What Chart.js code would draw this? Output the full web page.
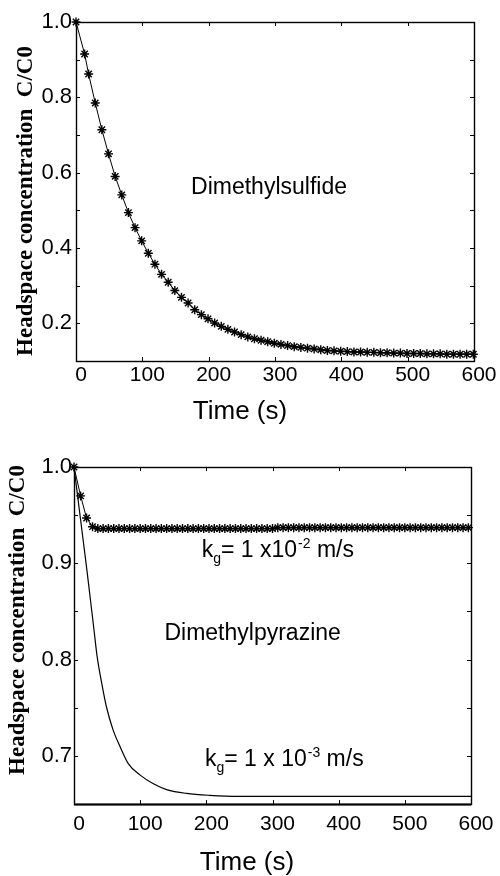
<!DOCTYPE html>
<html><head><meta charset="utf-8">
<script src="https://cdn.jsdelivr.net/npm/chart.js@4.4.0/dist/chart.umd.min.js"></script>
<style>
html,body{margin:0;padding:0;background:#fff;}
#wrap{position:relative;width:500px;height:876px;overflow:hidden;}
canvas{position:absolute;left:0;display:block;}
#c1{top:0;}
#c2{top:438px;}
</style></head><body>
<div id="wrap"><canvas id="c1" width="500" height="438"></canvas><canvas id="c2" width="500" height="438"></canvas></div>
<script>
// ---------- data ----------
const xTickValues = [0, 100, 200, 300, 400, 500, 600];
const dmsYLabels = [0.2, 0.4, 0.6, 0.8, 1.0];
const dmpYLabels = [0.7, 0.8, 0.9, 1.0];
const xTitle = 'Time (s)';
const yTitle = 'Headspace concentration  C/C0';
const dmsName = 'Dimethylsulfide';
const dmpName = 'Dimethylpyrazine';

// Dimethylsulfide
const dmsTime = [0, 13, 19, 29, 39, 49, 59, 69, 79, 89,
  99, 109, 119, 129, 139, 149, 159, 169, 179, 189,
  199, 209, 219, 229, 239, 249, 259, 269, 279, 289,
  299, 309, 319, 329, 339, 349, 359, 369, 379, 389,
  399, 409, 419, 429, 439, 449, 459, 469, 479, 489,
  499, 509, 519, 529, 539, 549, 559, 569, 579, 589, 599];
const dmsConc = [1.000, 0.915, 0.862, 0.785, 0.714, 0.650, 0.590, 0.541, 0.494, 0.454,
  0.419, 0.386, 0.357, 0.330, 0.309, 0.287, 0.269, 0.254, 0.236, 0.223,
  0.212, 0.201, 0.192, 0.184, 0.177, 0.170, 0.164, 0.159, 0.155, 0.151,
  0.147, 0.144, 0.141, 0.138, 0.136, 0.134, 0.132, 0.130, 0.128, 0.127,
  0.126, 0.125, 0.124, 0.124, 0.123, 0.123, 0.122, 0.122, 0.121, 0.121,
  0.120, 0.120, 0.120, 0.119, 0.119, 0.119, 0.118, 0.118, 0.118, 0.118, 0.118];

// Dimethylpyrazine, kg = 1e-2 m/s (asterisks)
const dmpHighTime = [0, 10, 19, 28, 36, 44, 52, 60, 68, 76,
  84, 92, 100, 108, 116, 124, 132, 140, 148, 156,
  164, 172, 180, 188, 196, 204, 212, 220, 228, 236,
  244, 252, 260, 268, 276, 284, 292, 300, 308, 316,
  324, 332, 340, 348, 356, 364, 372, 380, 388, 396,
  404, 412, 420, 428, 436, 444, 452, 460, 468, 476,
  484, 492, 500, 508, 516, 524, 532, 540, 548, 556,
  564, 572, 580, 588, 596];
const dmpHighConc = [1.000, 0.970, 0.947, 0.938, 0.936, 0.936, 0.936, 0.936, 0.936, 0.936,
  0.936, 0.936, 0.936, 0.936, 0.936, 0.936, 0.936, 0.936, 0.936, 0.936,
  0.936, 0.936, 0.936, 0.936, 0.936, 0.936, 0.936, 0.936, 0.936, 0.936,
  0.936, 0.936, 0.936, 0.936, 0.936, 0.936, 0.936, 0.936, 0.937, 0.937,
  0.937, 0.937, 0.937, 0.937, 0.937, 0.937, 0.937, 0.937, 0.937, 0.937,
  0.937, 0.937, 0.937, 0.937, 0.937, 0.937, 0.937, 0.937, 0.937, 0.937,
  0.937, 0.937, 0.937, 0.937, 0.937, 0.937, 0.937, 0.937, 0.937, 0.937,
  0.937, 0.937, 0.937, 0.937, 0.937];

// Dimethylpyrazine, kg = 1e-3 m/s (solid line)
const dmpLowTime = [0, 10, 20, 30, 35, 42, 49, 59, 70, 82, 100, 120, 140, 170, 205, 250, 300, 400, 500, 600];
const dmpLowConc = [1.000, 0.945, 0.890, 0.832, 0.803, 0.775, 0.751, 0.727, 0.709, 0.692, 0.680, 0.671, 0.665, 0.661, 0.659, 0.658, 0.658, 0.658, 0.658, 0.658];

// ---------- helpers ----------
const SANS = '"Liberation Sans", Arial, sans-serif';
const SERIF = '"Liberation Serif", "Times New Roman", serif';
const toXY = (xs, ys) => xs.map((x, i) => ({x: x, y: ys[i]}));

function drawKg(ctx, x, y, mid, exp) {
  ctx.textAlign = 'left';
  ctx.textBaseline = 'alphabetic';
  let cx = x;
  ctx.font = '23px ' + SANS; ctx.fillText('k', cx, y); cx += ctx.measureText('k').width;
  ctx.font = '14px ' + SANS; ctx.fillText('g', cx, y + 6); cx += ctx.measureText('g').width;
  ctx.font = '23px ' + SANS; ctx.fillText(mid, cx, y); cx += ctx.measureText(mid).width;
  ctx.font = '14px ' + SANS; ctx.fillText(exp, cx + 1, y - 9); cx += ctx.measureText(exp).width + 1;
  ctx.font = '23px ' + SANS; ctx.fillText(' m/s', cx, y);
}

const framePlugin = {
  id: 'frame',
  afterDatasetsDraw(chart, args, o) {
    const ctx = chart.ctx, a = chart.chartArea;
    const xs = chart.scales.x, ys = chart.scales.y;
    ctx.save();
    ctx.strokeStyle = '#000';
    ctx.lineWidth = 1;
    // inward ticks
    ctx.beginPath();
    xs.ticks.forEach(t => {
      const px = Math.round(xs.getPixelForValue(t.value)) + 0.5;
      ctx.moveTo(px, a.bottom); ctx.lineTo(px, a.bottom - 4);
      ctx.moveTo(px, a.top); ctx.lineTo(px, a.top + 4);
    });
    ys.ticks.forEach(t => {
      const py = Math.round(ys.getPixelForValue(t.value)) + 0.5;
      ctx.moveTo(a.left, py); ctx.lineTo(a.left + 4, py);
      ctx.moveTo(a.right, py); ctx.lineTo(a.right - 4, py);
    });
    ctx.stroke();
    // box
    ctx.lineWidth = 1.4;
    ctx.strokeRect(Math.round(a.left) + 0.5, Math.round(a.top) + 0.5,
      Math.round(a.right - a.left), Math.round(a.bottom - a.top));
    if (o.thickBottom) {
      ctx.lineWidth = 2.2;
      ctx.beginPath(); ctx.moveTo(a.left, a.bottom + 0.5); ctx.lineTo(a.right, a.bottom + 0.5); ctx.stroke();
    }
    ctx.restore();
  },
  afterDraw(chart, args, o) {
    const ctx = chart.ctx;
    const xs = chart.scales.x, ys = chart.scales.y;
    ctx.save();
    ctx.fillStyle = '#000';
    // axis titles
    ctx.font = '26px ' + SANS;
    ctx.textAlign = 'center'; ctx.textBaseline = 'middle';
    ctx.fillText(xTitle, o.xTitlePos[0], o.xTitlePos[1]);
    ctx.save();
    ctx.translate(o.yTitlePos[0], o.yTitlePos[1]);
    ctx.rotate(-Math.PI / 2);
    ctx.font = 'bold 23px ' + SERIF;
    ctx.fillText(yTitle, 0, 0);
    ctx.restore();
    // labels in the plot
    (o.notes || []).forEach(n => {
      const px = xs.getPixelForValue(n.x), py = ys.getPixelForValue(n.y);
      if (n.kg) {
        drawKg(ctx, px, py, n.mid, n.exp);
      } else {
        ctx.font = '23px ' + SANS;
        ctx.textAlign = 'center'; ctx.textBaseline = 'alphabetic';
        ctx.fillText(n.text, px, py);
      }
    });
    ctx.restore();
  }
};

function makeOptions(cfg) {
  return {
    responsive: false,
    animation: false,
    events: [],
    layout: {padding: cfg.padding},
    plugins: {
      legend: {display: false},
      tooltip: {enabled: false},
      frame: cfg.frame
    },
    scales: {
      x: {
        type: 'linear', min: 0, max: 600,
        grid: {display: false, drawTicks: false},
        border: {display: false},
        afterFit: s => { s.height = cfg.xHeight; },
        afterBuildTicks: s => { s.ticks = xTickValues.map(v => ({value: v})); },
        ticks: {
          color: '#000', font: {family: SANS, size: 21},
          padding: cfg.xPad, labelOffset: 5, maxRotation: 0, autoSkip: false,
          callback: v => String(v)
        }
      },
      y: {
        type: 'linear', min: cfg.yMin, max: 1.0,
        grid: {display: false, drawTicks: false},
        border: {display: false},
        afterFit: s => { s.width = cfg.yWidth; },
        ticks: {
          color: '#000', font: {family: SANS, size: 22},
          padding: cfg.yPad, stepSize: cfg.yStep, autoSkip: false,
          callback: cfg.yCallback
        }
      }
    }
  };
}

// ---------- top chart ----------
new Chart(document.getElementById('c1'), {
  type: 'line',
  data: {
    datasets: [{
      data: toXY(dmsTime, dmsConc),
      borderColor: '#000', borderWidth: 1,
      pointStyle: 'star', pointRadius: 4.5, pointBorderWidth: 1.4,
      pointBorderColor: '#000', pointBackgroundColor: '#000',
      tension: 0, clip: false
    }]
  },
  options: makeOptions({
    padding: {top: 22, right: 26, left: 0, bottom: 0},
    xHeight: 77, yWidth: 76, xPad: 2, yPad: 4,
    yMin: 0.1, yStep: 0.1,
    yCallback: v => dmsYLabels.includes(Math.round(v * 10) / 10) ? v.toFixed(1) : '',
    frame: {
      xTitlePos: [240, 412], yTitlePos: [26, 201], thickBottom: false,
      notes: [{text: dmsName, x: 291, y: 0.544}]
    }
  }),
  plugins: [framePlugin]
});

// ---------- bottom chart ----------
new Chart(document.getElementById('c2'), {
  type: 'line',
  data: {
    datasets: [{
      data: toXY(dmpHighTime, dmpHighConc),
      borderColor: '#000', borderWidth: 1,
      pointStyle: 'star', pointRadius: 4.5, pointBorderWidth: 1.4,
      pointBorderColor: '#000', pointBackgroundColor: '#000',
      tension: 0, clip: false
    }, {
      data: toXY(dmpLowTime, dmpLowConc),
      borderColor: '#000', borderWidth: 1.2,
      pointRadius: 0, cubicInterpolationMode: 'monotone', clip: false
    }]
  },
  options: makeOptions({
    padding: {top: 29, right: 29, left: 0, bottom: 0},
    xHeight: 72, yWidth: 74, xPad: 8, yPad: 2,
    yMin: 0.65, yStep: 0.05,
    yCallback: v => dmpYLabels.includes(Math.round(v * 100) / 100) ? v.toFixed(1) : '',
    frame: {
      xTitlePos: [247, 425], yTitlePos: [18, 182], thickBottom: true,
      notes: [
        {text: dmpName, x: 270, y: 0.820},
        {kg: true, mid: '= 1 x10', exp: '-2', x: 193, y: 0.907},
        {kg: true, mid: '= 1 x 10', exp: '-3', x: 198, y: 0.689}
      ]
    }
  }),
  plugins: [framePlugin]
});
</script>
</body></html>
